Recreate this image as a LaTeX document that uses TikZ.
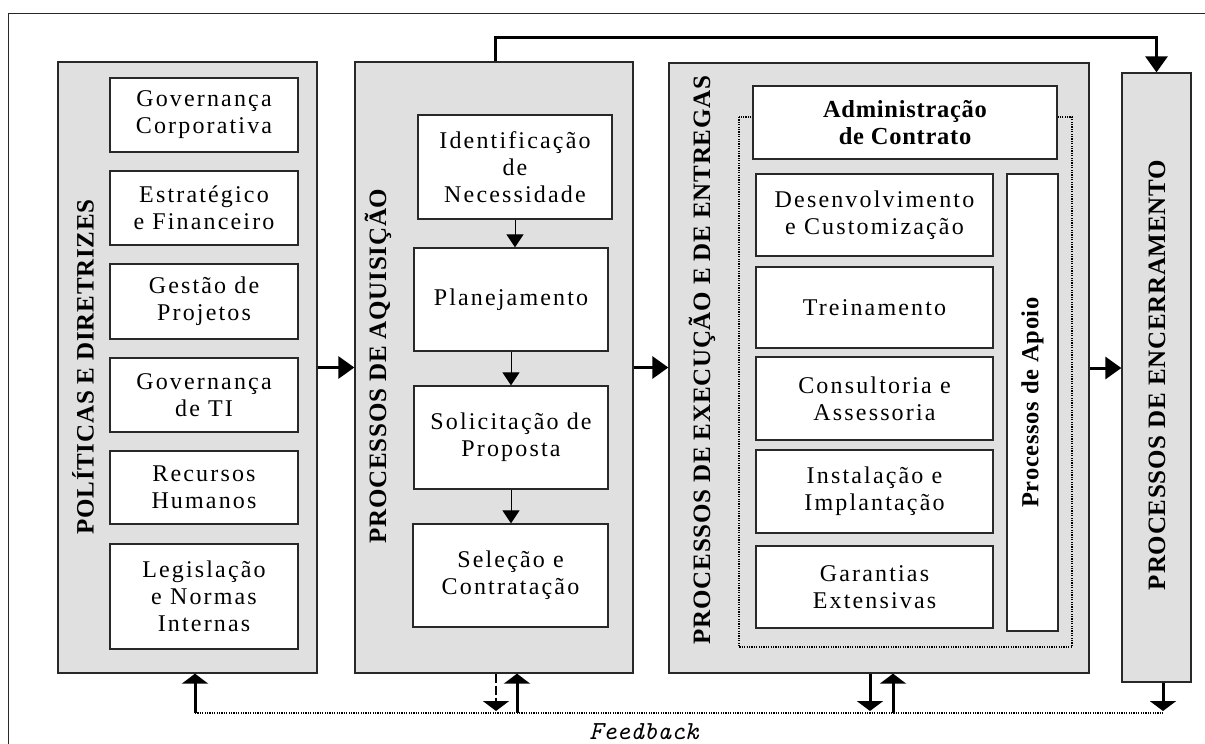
\documentclass[tikz,border=0pt]{standalone}
\usepackage{fontspec}
\setmainfont{Liberation Serif}
\newfontfamily\boxfont[LetterSpace=9]{Liberation Serif}
\newfontfamily\ttlfont[LetterSpace=3]{Liberation Serif}
\usetikzlibrary{arrows.meta}
\definecolor{panelgray}{RGB}{224,224,224}
\definecolor{edge}{RGB}{40,40,40}
\tikzset{
  panel/.style={draw=edge, line width=1.3pt, fill=panelgray, inner sep=0pt},
  wbox/.style={draw=edge, line width=1.3pt, fill=white, inner sep=0pt, align=center,
    font=\boxfont\fontsize{24}{27}\selectfont},
  bbox/.style={wbox, font=\ttlfont\bfseries\fontsize{24.5}{27}\selectfont},
  ttl/.style={rotate=90, inner sep=0pt, font=\ttlfont\bfseries\fontsize{25}{27}\selectfont},
  bigarrow/.style={line width=3pt, -{Triangle[length=16pt,width=22pt]}},
  fbarrow/.style={line width=3pt, -{Triangle[length=10pt,width=26pt]}},
  fbdash/.style={line width=2pt, dash pattern=on 9pt off 3pt, -{Triangle[length=10pt,width=26pt]}},
  smallarrow/.style={line width=1pt, -{Triangle[length=13pt,width=17pt]}},
  dotline/.style={line width=1.2pt, dash pattern=on 1.2pt off 1.2pt},
  frame/.style={draw=edge, line width=1pt}
}
\begin{document}
\begin{tikzpicture}[x=1pt, y=-1pt]
\useasboundingbox (0,0) rectangle (1205,744);
\draw[frame] (8,760) -- (8,13) -- (1220,13);

% panels
\node[panel, minimum width=259pt, minimum height=611pt] (p1) at (187.5,367.5) {};
\node[panel, minimum width=278pt, minimum height=611pt] (p2) at (494,367.5) {};
\node[panel, minimum width=420pt, minimum height=610pt] (p3) at (879,368) {};
\node[panel, minimum width=69pt, minimum height=609pt] (p4) at (1156.5,377.5) {};

% titles
\node[ttl] (t1) at (83,367) {POLÍTICAS E DIRETRIZES};
\node[ttl] (t2) at (378,366) {PROCESSOS DE AQUISIÇÃO};
\node[ttl] (t3) at (702,360) {PROCESSOS DE EXECUÇÃO E DE ENTREGAS};
\node[ttl] (t4) at (1157,375) {PROCESSOS DE ENCERRAMENTO};

% panel 1 boxes
\node[wbox, minimum width=188pt, minimum height=74pt] (b1) at (204,115) {Governança\\Corporativa};
\node[wbox, minimum width=188pt, minimum height=74pt] (b2) at (204,208) {Estratégico\\e Financeiro};
\node[wbox, minimum width=188pt, minimum height=75pt] (b3) at (204,301.5) {Gestão de\\Projetos};
\node[wbox, minimum width=188pt, minimum height=74pt] (b4) at (204,395) {Governança\\de TI};
\node[wbox, minimum width=188pt, minimum height=73pt] (b5) at (204,487.5) {Recursos\\Humanos};
\node[wbox, minimum width=188pt, minimum height=105pt] (b6) at (204,596.5) {Legislação\\e Normas\\Internas};

% panel 2 boxes
\node[wbox, minimum width=194pt, minimum height=104pt] (i1) at (515,167) {Identificação\\de\\Necessidade};
\node[wbox, minimum width=194pt, minimum height=103pt] (i2) at (511,299.5) {Planejamento};
\node[wbox, minimum width=194pt, minimum height=103pt] (i3) at (511,437.5) {Solicitação de\\Proposta};
\node[wbox, minimum width=195pt, minimum height=103pt] (i4) at (510.5,575.5) {Seleção e\\Contratação};
\draw[smallarrow] (i1.south) -- (i1.south |- i2.north);
\draw[smallarrow] (i2.south) -- (i2.south |- i3.north);
\draw[smallarrow] (i3.south) -- (i3.south |- i4.north);

% panel 3
\draw[dotline] (739,117) rectangle (1072,647);
\node[bbox, minimum width=304pt, minimum height=73pt] (adm) at (905,122.5) {Administração\\de Contrato};
\node[wbox, minimum width=237pt, minimum height=82pt] (d1) at (874.5,215) {Desenvolvimento\\e Customização};
\node[wbox, minimum width=237pt, minimum height=81pt] (d2) at (874.5,307.5) {Treinamento};
\node[wbox, minimum width=237pt, minimum height=83pt] (d3) at (874.5,398.5) {Consultoria e\\Assessoria};
\node[wbox, minimum width=237pt, minimum height=83pt] (d4) at (874.5,491.5) {Instalação e\\Implantação};
\node[wbox, minimum width=237pt, minimum height=82pt] (d5) at (874.5,587) {Garantias\\Extensivas};
\node[bbox, rotate=90, minimum width=457pt, minimum height=51pt] (apoio) at (1032.5,402.5) {Processos de Apoio};

% arrows between panels
\draw[bigarrow] (p1.east) -- (p2.west);
\draw[bigarrow] (p2.east) -- (p2.east -| p3.west);
\draw[bigarrow] (p3.east) -- (p3.east -| p4.west);
\coordinate (ta) at (495,37);
\draw[bigarrow] (p2.north -| ta) -- (ta) -| (p4.north);

% feedback
\coordinate (f1) at (195,713);
\coordinate (f2) at (1163,713);
\coordinate (u2) at (517,713);
\coordinate (d2c) at (496,711);
\coordinate (d3c) at (870,711);
\coordinate (u3) at (893,713);
\draw[dotline] (f1) -- (f2);
\draw[fbarrow] (f1) -- (f1 |- p1.south);
\draw[fbdash] (d2c |- p2.south) -- (d2c);
\draw[fbarrow] (u2) -- (u2 |- p2.south);
\draw[fbarrow] (d3c |- p3.south) -- (d3c);
\draw[fbarrow] (u3) -- (u3 |- p3.south);
\draw[fbarrow] (p4.south -| f2) -- ([yshift=2pt]f2);
\node[anchor=base, inner sep=0pt, font=\fontsize{26}{30}\ttfamily\itshape] (fb) at (644,739) {Feedback};
\end{tikzpicture}
\end{document}
